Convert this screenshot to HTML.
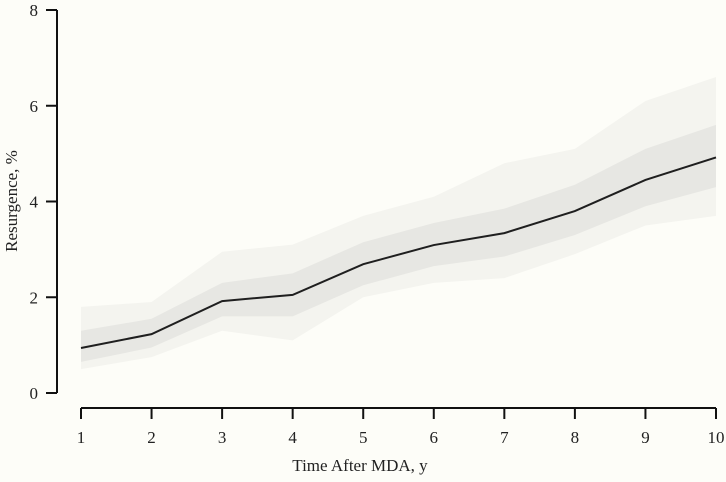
<!DOCTYPE html>
<html><head><meta charset="utf-8"><style>
html,body{margin:0;padding:0;background:#fdfdf8;}
svg text{font-family:"Liberation Serif",serif;fill:#222;}
</style></head><body>
<svg width="726" height="477" viewBox="0 0 726 477">
<rect width="726" height="477" fill="#fdfdf8"/>
<g id="bands"></g>
<g id="axes"></g>
<path id="mean" fill="none" stroke="#1f1f1f" stroke-width="2"/>
<text x="360" y="471" font-size="17" text-anchor="middle">Time After MDA, y</text>
<text transform="translate(17,201) rotate(-90)" font-size="17" text-anchor="middle">Resurgence, %</text>
</svg>
<script>
const years=[1,2,3,4,5,6,7,8,9,10];
const meanVals=[0.94,1.23,1.92,2.05,2.69,3.09,3.34,3.8,4.45,4.92];
const upperOuter=[1.8,1.9,2.95,3.1,3.7,4.1,4.8,5.1,6.1,6.6];
const lowerOuter=[0.5,0.75,1.3,1.1,2.0,2.3,2.4,2.9,3.5,3.7];
const upperInner=[1.3,1.55,2.3,2.5,3.15,3.55,3.85,4.35,5.1,5.6];
const lowerInner=[0.65,0.95,1.6,1.6,2.25,2.65,2.85,3.3,3.9,4.3];
const yTicks=[0,2,4,6,8];
const xTicks=[1,2,3,4,5,6,7,8,9,10];
const NS="http://www.w3.org/2000/svg";
const X=v=>81+(v-1)*(716-81)/9;
const Y=v=>393-v*(393-10)/8;
function band(up,lo,fill,name){
  let d="M"+years.map((t,i)=>X(t)+","+Y(up[i])).join("L");
  d+="L"+years.slice().reverse().map((t,j)=>{const i=years.length-1-j;return X(t)+","+Y(lo[i]);}).join("L")+"Z";
  const p=document.createElementNS(NS,"path");
  p.setAttribute("d",d);p.setAttribute("fill",fill);
  
  
  document.getElementById("bands").appendChild(p);
}
band(upperOuter,lowerOuter,"#f4f4ef","outer-band");
band(upperInner,lowerInner,"#e7e7e3","inner-band");
document.getElementById("mean").setAttribute("d","M"+years.map((t,i)=>X(t)+","+Y(meanVals[i])).join("L"));
const ax=document.getElementById("axes");
function el(tag,attrs,name,txt){const e=document.createElementNS(NS,tag);for(const k in attrs)e.setAttribute(k,attrs[k]);
  
  
  if(txt!==undefined)e.textContent=txt;ax.appendChild(e);}
el("line",{x1:57,y1:Y(8),x2:57,y2:Y(0),stroke:"#111","stroke-width":2},"y-axis-line");
el("line",{x1:X(1),y1:408,x2:X(10),y2:408,stroke:"#111","stroke-width":2},"x-axis-line");
yTicks.forEach(v=>{
  el("line",{x1:46,y1:Y(v),x2:57,y2:Y(v),stroke:"#111","stroke-width":2},"y-tick");
  el("text",{x:38,y:Y(v)+6,"font-size":17,"text-anchor":"end"},"y-tick-label",String(v));
});
xTicks.forEach(v=>{
  el("line",{x1:X(v),y1:408,x2:X(v),y2:419,stroke:"#111","stroke-width":2},"x-tick");
  el("text",{x:X(v),y:443,"font-size":17,"text-anchor":"middle"},"x-tick-label",String(v));
});
</script>
</body></html>
